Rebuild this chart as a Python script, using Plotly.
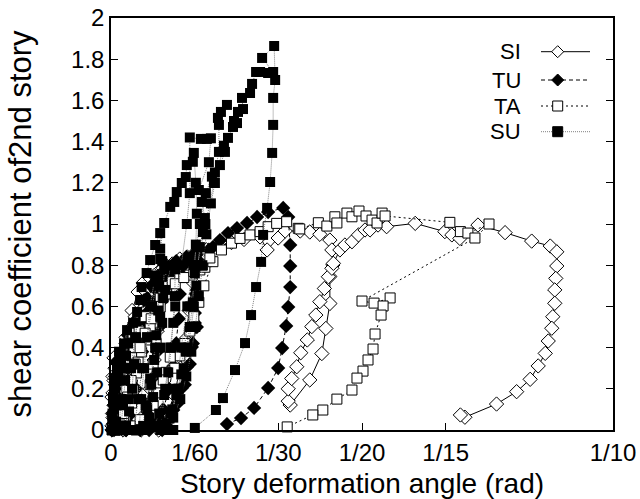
import plotly.graph_objects as go

# ---------------- data (story drift angle [rad], shear coefficient) ----------------
SI_x = [0.0002, 0.0004, 0.0006, 0.0004, 0.0006, 0.0008, 0.0006, 0.0004, 0.0002, 0.0003, 0.0002,
        0.0008, 0.0014, 0.0020, 0.0030, 0.0042, 0.0050, 0.0046, 0.0040, 0.0034, 0.0028, 0.0024,
        0.0026, 0.0034, 0.0044, 0.0056, 0.0068, 0.0080, 0.0094, 0.0102, 0.0098, 0.0092, 0.0086, 0.0078, 0.0070, 0.0060,
        0.0012, 0.0016, 0.0022, 0.0030, 0.0042, 0.0054, 0.0064, 0.0078, 0.0092, 0.0104, 0.0122, 0.0137, 0.0152, 0.0168,
        0.0162, 0.0156, 0.0148, 0.0138, 0.0126, 0.0110, 0.0095,
        0.0016, 0.0024, 0.0034, 0.0048, 0.0066, 0.0086, 0.0110, 0.0137, 0.0165, 0.0190, 0.0215, 0.0240, 0.0265,
        0.0297, 0.0311, 0.0333, 0.0347, 0.0377, 0.0396, 0.0416,
        0.0436, 0.0440, 0.0442, 0.0436, 0.0436, 0.0428, 0.0420, 0.0396, 0.0357,
        0.0353, 0.0353, 0.0360, 0.0370, 0.0378, 0.0391, 0.0400, 0.0408, 0.0416, 0.0425, 0.0433, 0.0440, 0.0443,
        0.0456, 0.0466, 0.0480, 0.0493, 0.0506, 0.0516, 0.0532, 0.0549, 0.0606, 0.0665, 0.0679, 0.0695,
        0.0731, 0.0785, 0.0838, 0.0875, 0.0888, 0.0888, 0.0886, 0.0884, 0.0884, 0.0880, 0.0878, 0.0871,
        0.0865, 0.0851, 0.0835, 0.0808, 0.0768, 0.0705, 0.0696]
SI_y = [0.00, 0.06, 0.12, 0.18, 0.24, 0.30, 0.35, 0.26, 0.16, 0.08, 0.02,
        0.02, 0.15, 0.30, 0.42, 0.50, 0.55, 0.45, 0.32, 0.18, 0.05, 0.00,
        0.05, 0.20, 0.35, 0.48, 0.60, 0.68, 0.73, 0.75, 0.62, 0.48, 0.34, 0.20, 0.08, 0.00,
        0.02, 0.15, 0.30, 0.45, 0.58, 0.67, 0.714, 0.738, 0.762, 0.786, 0.806, 0.825, 0.840, 0.855,
        0.72, 0.58, 0.44, 0.30, 0.17, 0.06, 0.00,
        0.03, 0.20, 0.38, 0.55, 0.68, 0.75, 0.80, 0.83, 0.855, 0.875, 0.893, 0.910, 0.925,
        0.937, 0.874, 0.932, 0.966, 0.966, 0.961, 0.950,
        0.922, 0.874, 0.801, 0.745, 0.614, 0.493, 0.371, 0.243, 0.121,
        0.140, 0.200, 0.250, 0.307, 0.375, 0.437, 0.502, 0.558, 0.623, 0.687, 0.744, 0.785, 0.809,
        0.874, 0.898, 0.914, 0.947, 0.971, 0.971, 0.995, 0.987, 1.003, 0.963, 0.947, 0.930,
        0.995, 0.958, 0.917, 0.893, 0.865, 0.796, 0.736, 0.680, 0.615, 0.550, 0.494, 0.432,
        0.372, 0.311, 0.246, 0.186, 0.126, 0.062, 0.073]

TU_x = [0.0002, 0.0004, 0.0006, 0.0008, 0.0010, 0.0008, 0.0006, 0.0004,
        0.0006, 0.0010, 0.0016, 0.0024, 0.0034, 0.0046, 0.0052, 0.0050, 0.0046, 0.0042, 0.0036, 0.0030,
        0.0020, 0.0026, 0.0034, 0.0044, 0.0058, 0.0072, 0.0086, 0.0100, 0.0098, 0.0096, 0.0092, 0.0086, 0.0078, 0.0068, 0.0058,
        0.0030, 0.0038, 0.0048, 0.0060, 0.0076, 0.0094, 0.0114, 0.0133, 0.0137, 0.0135, 0.0130, 0.0124,
        0.0116, 0.0104, 0.0090, 0.0076,
        0.0022, 0.0030, 0.0040, 0.0052, 0.0066, 0.0080, 0.0096, 0.0114, 0.0130, 0.0150, 0.0168,
        0.0175, 0.0171, 0.0167, 0.0171, 0.0161, 0.0151, 0.0141, 0.0124, 0.0098, 0.0078,
        0.0034, 0.0044, 0.0056, 0.0072, 0.0090, 0.0110, 0.0135, 0.0160, 0.0171,
        0.0169, 0.0167, 0.0163, 0.0157, 0.0147, 0.0133, 0.0118, 0.0102,
        0.0040, 0.0050, 0.0062, 0.0078, 0.0098, 0.0120, 0.0145, 0.0170, 0.0195, 0.0203, 0.0217, 0.0233,
        0.0251, 0.0271, 0.0291, 0.0313, 0.0343, 0.0353, 0.0357, 0.0357, 0.0357, 0.0353, 0.0349, 0.0341,
        0.0333, 0.0313, 0.0285, 0.0259, 0.0231]
TU_y = [0.00, 0.08, 0.17, 0.26, 0.33, 0.22, 0.12, 0.03,
        0.00, 0.12, 0.26, 0.38, 0.46, 0.52, 0.54, 0.42, 0.30, 0.18, 0.07, 0.00,
        0.02, 0.15, 0.30, 0.44, 0.56, 0.64, 0.70, 0.74, 0.62, 0.50, 0.38, 0.26, 0.14, 0.05, 0.00,
        0.00, 0.15, 0.30, 0.45, 0.58, 0.67, 0.73, 0.77, 0.66, 0.54, 0.42, 0.31,
        0.20, 0.10, 0.03, 0.00,
        0.02, 0.20, 0.38, 0.52, 0.63, 0.70, 0.75, 0.79, 0.82, 0.84, 0.86,
        0.82, 0.68, 0.568, 0.50, 0.403, 0.306, 0.204, 0.097, 0.049, 0.010,
        0.02, 0.20, 0.37, 0.52, 0.63, 0.71, 0.77, 0.81, 0.80,
        0.66, 0.52, 0.42, 0.32, 0.22, 0.13, 0.05, 0.00,
        0.02, 0.20, 0.38, 0.53, 0.65, 0.74, 0.80, 0.85, 0.875, 0.888, 0.922, 0.956,
        0.980, 1.005, 1.034, 1.058, 1.078, 1.034, 0.898, 0.796, 0.694, 0.597, 0.505, 0.398,
        0.301, 0.204, 0.107, 0.058, 0.029]

TA_x = [0.0002, 0.0004, 0.0006, 0.0008, 0.0006, 0.0004, 0.0008,
        0.0010, 0.0014, 0.0020, 0.0028, 0.0036, 0.0044, 0.0042, 0.0038, 0.0034, 0.0028, 0.0022,
        0.0018, 0.0024, 0.0030, 0.0038, 0.0046, 0.0056, 0.0068, 0.0082, 0.0098,
        0.0094, 0.0090, 0.0084, 0.0078, 0.0070, 0.0060, 0.0050,
        0.0008, 0.0025, 0.0034, 0.0041, 0.0044, 0.0051, 0.0054, 0.0061, 0.0071, 0.0078, 0.0088, 0.0098,
        0.0104, 0.0111, 0.0122, 0.0137, 0.0157, 0.0177, 0.0187, 0.0203,
        0.0185, 0.0175, 0.0165, 0.0157, 0.0147, 0.0137, 0.0127, 0.0118, 0.0110, 0.0104, 0.0094,
        0.0084, 0.0071, 0.0058, 0.0038, 0.0018,
        0.0025, 0.0033, 0.0040, 0.0048, 0.0058, 0.0068, 0.0080, 0.0094, 0.0110, 0.0128, 0.0145,
        0.0165, 0.0182, 0.0197, 0.0220, 0.0240, 0.0257, 0.0277, 0.0297, 0.0313, 0.0330, 0.0350,
        0.0373, 0.0376, 0.0413, 0.0430, 0.0446, 0.0450, 0.0470, 0.0480, 0.0494, 0.0508, 0.0520,
        0.0530, 0.0540, 0.0546, 0.0675, 0.0696, 0.0711, 0.0753, 0.0725,
        0.0500, 0.0524, 0.0556, 0.0542, 0.0538, 0.0526, 0.0522, 0.0512, 0.0502, 0.0490, 0.0480,
        0.0450, 0.0422, 0.0402, 0.0351]
TA_y = [0.00, 0.07, 0.15, 0.24, 0.14, 0.04, 0.00,
        0.02, 0.12, 0.24, 0.34, 0.42, 0.47, 0.36, 0.24, 0.13, 0.04, 0.00,
        0.01, 0.10, 0.20, 0.30, 0.40, 0.48, 0.55, 0.60, 0.64,
        0.52, 0.42, 0.32, 0.22, 0.12, 0.05, 0.00,
        0.00, 0.058, 0.121, 0.131, 0.194, 0.277, 0.330, 0.379, 0.437, 0.495, 0.549, 0.597,
        0.646, 0.696, 0.720, 0.740, 0.752, 0.777, 0.790, 0.817,
        0.70, 0.62, 0.55, 0.48, 0.42, 0.36, 0.30, 0.354, 0.28, 0.243, 0.18,
        0.12, 0.107, 0.05, 0.02, 0.024,
        0.08, 0.16, 0.24, 0.32, 0.40, 0.47, 0.54, 0.60, 0.66, 0.71, 0.74,
        0.77, 0.80, 0.835, 0.874, 0.907, 0.930, 0.947, 0.963, 0.987, 1.003, 1.011,
        0.979, 0.976, 1.006, 0.990, 1.035, 1.005, 1.053, 1.035, 1.063, 1.039, 1.019,
        1.005, 1.053, 1.039, 1.008, 0.963, 0.956, 1.000, 0.932,
        0.626, 0.616, 0.641, 0.602, 0.558, 0.466, 0.393, 0.340, 0.286, 0.252, 0.194,
        0.150, 0.097, 0.073, 0.015]

SU_x = [0.0002, 0.0003, 0.0004, 0.0006, 0.0004, 0.0003, 0.0002,
        0.0004, 0.0006, 0.0008, 0.0012, 0.0016, 0.0014, 0.0012, 0.0010, 0.0008,
        0.0010, 0.0012, 0.0016, 0.0020, 0.0026, 0.0032, 0.0030, 0.0028, 0.0024, 0.0020,
        0.0016, 0.0020, 0.0026, 0.0034, 0.0044, 0.0052, 0.0050, 0.0046, 0.0042, 0.0036, 0.0030,
        0.0030, 0.0034, 0.0040, 0.0048, 0.0058, 0.0061, 0.0071, 0.0078, 0.0088, 0.0098,
        0.0098, 0.0096, 0.0094, 0.0090, 0.0086, 0.0080, 0.0072, 0.0064,
        0.0046, 0.0054, 0.0062, 0.0072, 0.0082, 0.0092, 0.0102, 0.0106, 0.0104, 0.0102, 0.0098,
        0.0092, 0.0084, 0.0076, 0.0068,
        0.0062, 0.0070, 0.0078, 0.0088, 0.0098, 0.0108, 0.0120, 0.0128, 0.0127, 0.0124, 0.0120,
        0.0114, 0.0106, 0.0096, 0.0086,
        0.0056, 0.0060, 0.0066, 0.0072, 0.0078, 0.0088, 0.0098, 0.0106, 0.0118, 0.0126, 0.0131,
        0.0141, 0.0149, 0.0151, 0.0163, 0.0165, 0.0169, 0.0171, 0.0169, 0.0167, 0.0163, 0.0157,
        0.0149, 0.0140, 0.0130, 0.0118, 0.0104,
        0.0098, 0.0108, 0.0118, 0.0128, 0.0140, 0.0151, 0.0157, 0.0157, 0.0179, 0.0191, 0.0199,
        0.0195, 0.0175, 0.0181, 0.0187, 0.0183, 0.0177, 0.0173, 0.0170, 0.0165, 0.0160, 0.0153,
        0.0145, 0.0135, 0.0122, 0.0110,
        0.0120, 0.0130, 0.0140, 0.0152, 0.0165, 0.0177, 0.0189, 0.0201, 0.0207, 0.0215, 0.0215,
        0.0213, 0.0219, 0.0231, 0.0253, 0.0251, 0.0243, 0.0233, 0.0227, 0.0217, 0.0207, 0.0199,
        0.0190, 0.0182, 0.0175, 0.0168, 0.0160, 0.0150, 0.0138, 0.0124, 0.0110,
        0.0124, 0.0134, 0.0146, 0.0158, 0.0172, 0.0188, 0.0205, 0.0225, 0.0245, 0.0263, 0.0261,
        0.0277, 0.0281, 0.0289, 0.0297, 0.0313, 0.0323, 0.0301, 0.0325, 0.0327, 0.0323, 0.0323,
        0.0321, 0.0317, 0.0311, 0.0303, 0.0299, 0.0289, 0.0279, 0.0267, 0.0247, 0.0223, 0.0209, 0.0167]
SU_y = [0.00, 0.08, 0.16, 0.24, 0.14, 0.05, 0.00,
        0.00, 0.10, 0.20, 0.30, 0.38, 0.26, 0.14, 0.04, 0.00,
        0.00, 0.12, 0.24, 0.34, 0.42, 0.485, 0.36, 0.24, 0.12, 0.02,
        0.00, 0.15, 0.30, 0.42, 0.52, 0.573, 0.45, 0.32, 0.20, 0.09, 0.00,
        0.02, 0.15, 0.30, 0.45, 0.631, 0.694, 0.762, 0.825, 0.898, 0.956,
        0.83, 0.70, 0.58, 0.46, 0.34, 0.22, 0.10, 0.02,
        0.00, 0.15, 0.30, 0.45, 0.60, 0.72, 0.82, 0.78, 0.64, 0.52, 0.40,
        0.28, 0.16, 0.06, 0.00,
        0.00, 0.12, 0.25, 0.40, 0.55, 0.68, 0.80, 0.78, 0.65, 0.52, 0.40,
        0.28, 0.17, 0.08, 0.02,
        0.00, 0.15, 0.30, 0.45, 0.60, 0.75, 0.88, 1.005, 1.083, 1.107, 1.155,
        1.199, 1.228, 1.286, 1.302, 1.345, 1.20, 1.05, 0.90, 0.76, 0.62, 0.50,
        0.38, 0.27, 0.17, 0.08, 0.02,
        0.00, 0.20, 0.40, 0.60, 0.80, 1.00, 1.15, 1.420, 1.413, 1.413, 1.416,
        1.30, 1.165, 1.107, 1.029, 0.961, 0.888, 0.80, 0.70, 0.60, 0.50, 0.40,
        0.30, 0.20, 0.10, 0.03,
        0.00, 0.20, 0.40, 0.60, 0.80, 1.00, 1.15, 1.230, 1.25, 1.35, 1.481,
        1.515, 1.544, 1.578, 1.544, 1.490, 1.471, 1.418, 1.350, 1.286, 1.199, 1.10,
        0.95, 0.80, 0.65, 0.50, 0.38, 0.26, 0.15, 0.06, 0.00,
        0.00, 0.20, 0.40, 0.60, 0.80, 1.00, 1.20, 1.38, 1.50, 1.558, 1.612,
        1.636, 1.680, 1.738, 1.738, 1.733, 1.738, 1.806, 1.864, 1.699, 1.612, 1.481,
        1.345, 1.204, 1.078, 0.947, 0.816, 0.694, 0.558, 0.422, 0.291, 0.155, 0.097, 0.010]

x_tickvals = [0, 1/60, 1/30, 1/20, 1/15, 1/10]
x_ticktext = ["0", "1/60", "1/30", "1/20", "1/15", "1/10"]
x2_tickvals = [1/500, 1/200, 1/120, 1/60, 1/45, 1/30, 1/20, 1/15]
y_tickvals = [0, 0.2, 0.4, 0.6, 0.8, 1.0, 1.2, 1.4, 1.6, 1.8, 2.0]
y_ticktext = ["0", "0.2", "0.4", "0.6", "0.8", "1", "1.2", "1.4", "1.6", "1.8", "2"]

series_names = ["SI", "TU", "TA", "SU"]

FONT = "Liberation Sans, Arial, Helvetica, sans-serif"

fig = go.Figure()
fig.add_trace(go.Scatter(x=SI_x, y=SI_y, mode="lines+markers", name="SI", cliponaxis=False,
                         line=dict(color="black", width=1),
                         marker=dict(symbol="diamond", size=11, color="white",
                                     line=dict(color="black", width=1))))
fig.add_trace(go.Scatter(x=TU_x, y=TU_y, mode="lines+markers", name="TU", cliponaxis=False,
                         line=dict(color="black", width=1, dash="4px,3px"),
                         marker=dict(symbol="diamond", size=11, color="black",
                                     line=dict(color="black", width=0))))
fig.add_trace(go.Scatter(x=TA_x, y=TA_y, mode="lines+markers", name="TA", cliponaxis=False,
                         line=dict(color="black", width=1, dash="2px,3px"),
                         marker=dict(symbol="square", size=10, color="white",
                                     line=dict(color="black", width=1))))
fig.add_trace(go.Scatter(x=SU_x, y=SU_y, mode="lines+markers", name="SU", cliponaxis=False,
                         line=dict(color="#808080", width=1, dash="1px,1px"),
                         marker=dict(symbol="square", size=10, color="black",
                                     line=dict(color="black", width=0))))

# ---------------- custom legend (text left of sample, as in the original) ----------------
L, R, T, B = 111, 613, 18, 430
W, H = R - L, B - T
def px(xp):
    return (xp - L) / W
def py(yp):
    return (B - yp) / H

rows = [51.7, 80, 106, 131.7]
styles = [
    dict(color="black", dash="solid"),
    dict(color="black", dash="4px,3px"),
    dict(color="black", dash="2px,3px"),
    dict(color="#808080", dash="1px,1px"),
]
shapes = []
annotations = []
for name, row, st in zip(series_names, rows, styles):
    yc = py(row)
    annotations.append(dict(x=px(523), y=yc, xref="paper", yref="paper", text=name,
                            showarrow=False, xanchor="right", yanchor="middle",
                            font=dict(family=FONT, size=22, color="black")))
    shapes.append(dict(type="line", xref="paper", yref="paper", x0=px(541), x1=px(590),
                       y0=yc, y1=yc, line=dict(color=st["color"], width=1, dash=st["dash"]),
                       layer="above"))
    mx = px(557.7)
    if name in ("SI", "TU"):
        dx, dy = 6 / W, 6 / H
        path = f"M {mx-dx},{yc} L {mx},{yc+dy} L {mx+dx},{yc} L {mx},{yc-dy} Z"
        shapes.append(dict(type="path", xref="paper", yref="paper", path=path,
                           fillcolor="white" if name == "SI" else "black",
                           line=dict(color="black", width=1), layer="above"))
    else:
        dx, dy = 5 / W, 5 / H
        shapes.append(dict(type="rect", xref="paper", yref="paper",
                           x0=mx - dx, x1=mx + dx, y0=yc - dy, y1=yc + dy,
                           fillcolor="white" if name == "TA" else "black",
                           line=dict(color="black", width=1), layer="above"))

axis_common = dict(showgrid=False, zeroline=False, showline=True, linecolor="black",
                   linewidth=1.5, ticks="inside", ticklen=7, automargin=False,
                   tickcolor="black", tickwidth=1,
                   tickfont=dict(family=FONT, size=24, color="black"))

fig.update_layout(
    width=640, height=499,
    margin=dict(l=L, r=640 - R, t=T, b=499 - B),
    paper_bgcolor="white", plot_bgcolor="white",
    showlegend=False,
    shapes=shapes, annotations=annotations,
    xaxis=dict(range=[0, 0.1], tickvals=x_tickvals, ticktext=x_ticktext, mirror=True,
               title=dict(text="Story deformation angle (rad)", standoff=10,
                          font=dict(family=FONT, size=28, color="black")),
               **axis_common),
    xaxis2=dict(range=[0, 0.1], overlaying="x", side="top", anchor="y",
                tickvals=x2_tickvals, showticklabels=False, showgrid=False, zeroline=False,
                showline=False, ticks="inside", ticklen=7, tickcolor="black", tickwidth=1),
    yaxis=dict(range=[0, 2], tickvals=y_tickvals, ticktext=y_ticktext, mirror="ticks",
               title=dict(text="shear coefficient of2nd story", standoff=30,
                          font=dict(family=FONT, size=31, color="black")),
               **axis_common),
)

fig.write_html("out.html")
